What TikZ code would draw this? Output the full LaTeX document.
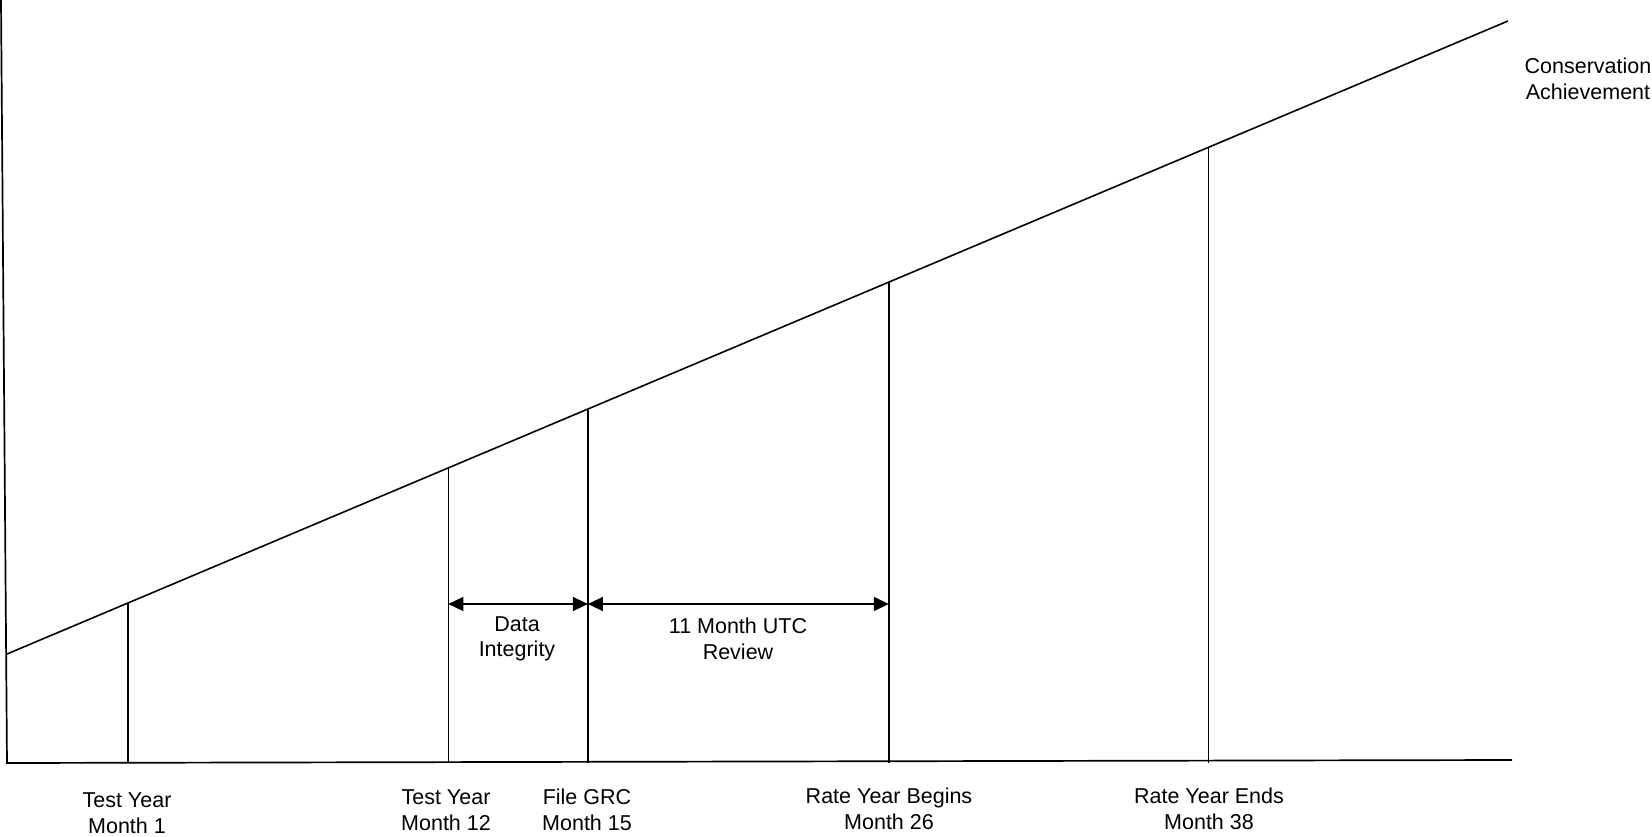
\documentclass[tikz,border=0pt]{standalone}
\usepackage{fontspec}
\setmainfont{Liberation Sans}
\usetikzlibrary{arrows.meta}
\begin{document}
\begin{tikzpicture}[x=1pt, y=-1pt,
    every node/.style={font=\fontsize{21.5}{25.5}\selectfont, align=center, inner sep=0pt},
    axis/.style={line width=1.7pt},
    mark line/.style={line width=1.6pt},
    span/.style={{Triangle[length=15pt,width=14pt]}-{Triangle[length=15pt,width=14pt]}, line width=1.5pt},
]
    \useasboundingbox (0,0) rectangle (1652,837);
    % axes
    \coordinate (ytop) at (1,0);
    \coordinate (origin) at (7,763);
    \coordinate (xend) at (1512,760);
    \draw[axis] (ytop) -- (origin) -- (xend);
    % achievement line
    \coordinate (lstart) at (7,654);
    \coordinate (lend) at (1508,21);
    \draw[mark line] (lstart) -- (lend)
        coordinate[pos=0.0805] (m1)
        coordinate[pos=0.294] (m12)
        coordinate[pos=0.387] (m15)
        coordinate[pos=0.5875] (m26)
        coordinate[pos=0.8005] (m38);
    \foreach \m in {m1, m12, m15, m26, m38}
        \draw[mark line] (\m) -- (\m |- origin);
    % review spans
    \coordinate (sa) at (m12 |- 0,604);
    \coordinate (sb) at (m15 |- 0,604);
    \coordinate (sc) at (m26 |- 0,604);
    \draw[span] (sa) -- (sb);
    \draw[span] (sb) -- (sc);
    \node (integ) at (517,639) {Data\\ Integrity};
    \node (utc) at (738,639) {11 Month UTC\\ Review};
    % month labels
    \node (lab1) at (127,813) {Test Year\\ Month 1};
    \node (lab12) at (446,810) {Test Year\\ Month 12};
    \node (lab15) at (587,810) {File GRC\\ Month 15};
    \node (lab26) at (889,809) {Rate Year Begins\\ Month 26};
    \node (lab38) at (1209,809) {Rate Year Ends\\ Month 38};
    \node (cons) at (1588,79) {Conservation\\ Achievement};
\end{tikzpicture}
\end{document}
